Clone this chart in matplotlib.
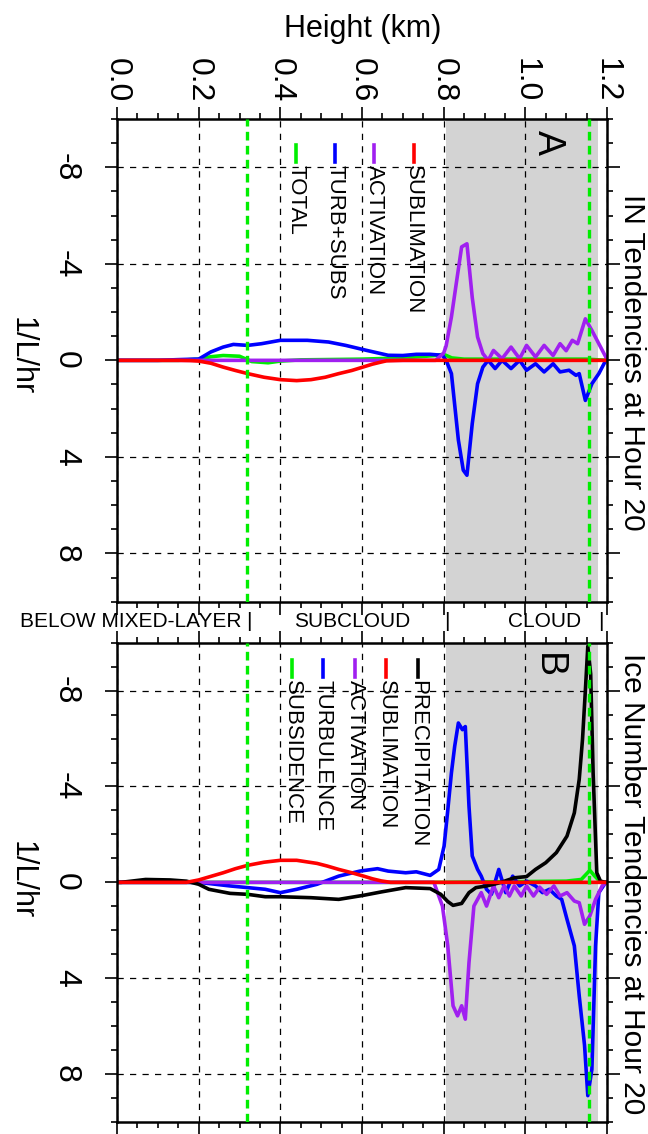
import matplotlib
matplotlib.use("Agg")
import matplotlib.pyplot as plt
from matplotlib.ticker import MultipleLocator, FormatStrFormatter

plt.rcParams['font.family'] = ['Liberation Sans', 'DejaVu Sans']
plt.rcParams['axes.unicode_minus'] = False

GREEN = '#00ee00'
PURPLE = '#a020f0'
LW = 2.6

# ---- panel A : IN tendencies (height km, 1/L/hr) ----
a_sub_h = [0.0, 0.15, 0.18, 0.2, 0.23, 0.26, 0.29, 0.32, 0.36, 0.40, 0.44, 0.475, 0.51, 0.543,
           0.575, 0.602, 0.625, 0.647, 0.66, 0.70, 0.80, 1.0, 1.2]
a_sub_v = [0, 0, 0.01, 0.03, 0.12, 0.28, 0.42, 0.55, 0.7, 0.8, 0.84, 0.8, 0.7, 0.55,
           0.42, 0.28, 0.16, 0.07, 0.02, 0, 0, 0, 0]

a_turb_h = [0.0, 0.10, 0.15, 0.19, 0.2, 0.23, 0.26, 0.285, 0.32, 0.354, 0.40, 0.466, 0.518, 0.56,
            0.612, 0.664, 0.70, 0.733, 0.767, 0.797, 0.806, 0.819, 0.836, 0.848, 0.857, 0.87,
            0.883, 0.896, 0.909, 0.926, 0.943, 0.965, 0.986, 1.003, 1.025, 1.046, 1.068, 1.085,
            1.107, 1.124, 1.132, 1.147, 1.163, 1.18, 1.197, 1.2]
a_turb_v = [0, 0, -0.03, -0.05, -0.05, -0.35, -0.55, -0.66, -0.62, -0.69, -0.83, -0.83, -0.76, -0.62,
            -0.41, -0.21, -0.2, -0.25, -0.25, -0.21, 0, 0.55, 3.3, 4.55, 4.76, 2.62,
            0.97, 0.28, 0, 0.34, 0.0, 0.34, 0.0, 0.41, 0.14, 0.48, 0.14, 0.48,
            0.41, 0.62, 0.55, 1.66, 0.97, 0.55, 0.0, -0.07]

a_act_h = [0.0, 0.78, 0.80, 0.806, 0.819, 0.831, 0.844, 0.857, 0.87, 0.883, 0.896, 0.909, 0.922,
           0.943, 0.965, 0.986, 1.003, 1.025, 1.046, 1.068, 1.085, 1.10, 1.115, 1.128, 1.147,
           1.163, 1.18, 1.197, 1.2]
a_act_v = [0, 0, -0.3, -0.6, -1.8, -3.2, -4.7, -4.83, -2.6, -0.97, -0.28, 0, -0.41,
           -0.07, -0.55, -0.07, -0.62, -0.14, -0.62, -0.2, -0.69, -0.4, -0.83, -0.69, -1.72,
           -1.24, -0.69, -0.14, 0]

a_tot_h = [0.0, 0.15, 0.2, 0.23, 0.26, 0.30, 0.33, 0.37, 0.40, 0.45, 0.60, 0.70, 0.78, 0.80,
           0.82, 0.85, 0.90, 1.0, 1.1, 1.15, 1.18, 1.2]
a_tot_v = [0, 0, -0.05, -0.15, -0.2, -0.17, 0.05, 0.1, 0.03, -0.02, -0.05, -0.1, -0.2, -0.25,
           -0.1, -0.05, -0.05, -0.05, -0.05, -0.05, -0.02, 0]

# ---- panel B : ice number tendencies ----
b_prec_h = [0.0, 0.01, 0.07, 0.13, 0.17, 0.2, 0.225, 0.277, 0.32, 0.363, 0.40, 0.475, 0.543, 0.604,
            0.647, 0.707, 0.767, 0.793, 0.81, 0.823, 0.844, 0.862, 0.879, 0.905, 0.939, 0.973,
            1.003, 1.025, 1.05, 1.076, 1.102, 1.12, 1.132, 1.14, 1.147, 1.153, 1.16, 1.166,
            1.175, 1.184, 1.197, 1.2]
b_prec_v = [0, 0, -0.12, -0.1, -0.05, 0.08, 0.29, 0.46, 0.5, 0.6, 0.6, 0.64, 0.71, 0.54,
            0.4, 0.22, 0.26, 0.5, 0.8, 0.96, 0.88, 0.43, 0.22, 0.15, 0.01, -0.19,
            -0.24, -0.54, -0.82, -1.24, -1.93, -2.9, -4.3, -5.96, -8.0, -9.85, -8.7, -4.57,
            -0.4, -0.05, 0, 0]

b_sub_h = [0.0, 0.17, 0.2, 0.23, 0.26, 0.29, 0.32, 0.36, 0.40, 0.44, 0.49, 0.515, 0.543, 0.575,
           0.604, 0.625, 0.647, 0.67, 1.2]
b_sub_v = [0, 0, -0.1, -0.25, -0.4, -0.57, -0.71, -0.84, -0.92, -0.92, -0.79, -0.68, -0.54, -0.4,
           -0.26, -0.15, -0.06, 0, 0]

b_act_h = [0.0, 0.776, 0.797, 0.81, 0.823, 0.834, 0.844, 0.853, 0.862, 0.874, 0.892, 0.905, 0.922,
           0.935, 0.948, 0.961, 0.973, 0.99, 1.003, 1.02, 1.035, 1.052, 1.07, 1.085, 1.102,
           1.12, 1.132, 1.145, 1.158, 1.172, 1.188, 1.2]
b_act_v = [0, 0, 0.99, 2.65, 5.15, 5.57, 5.15, 5.71, 3.35, 0.99, 0.43, 0.99, 0.15,
           0.64, 0.15, 0.57, 0.15, 0.57, 0.15, 0.57, 0.2, 0.5, 0.15, 0.57, 0.43,
           0.78, 0.85, 1.75, 1.4, 0.71, 0.15, 0]

b_turb_h = [0.0, 0.2, 0.277, 0.32, 0.363, 0.40, 0.44, 0.49, 0.543, 0.595, 0.638, 0.664, 0.707,
            0.733, 0.767, 0.788, 0.801, 0.81, 0.819, 0.827, 0.836, 0.846, 0.853, 0.862, 0.87,
            0.883, 0.892, 0.905, 0.917, 0.935, 0.952, 0.969, 0.986, 1.003, 1.025, 1.042, 1.059,
            1.076, 1.089, 1.102, 1.12, 1.132, 1.145, 1.153, 1.163, 1.172, 1.18, 1.197, 1.2]
b_turb_v = [0, 0, 0.15, 0.22, 0.29, 0.43, 0.29, 0.08, -0.26, -0.47, -0.57, -0.47, -0.4,
            -0.44, -0.29, -0.54, -1.51, -3.0, -4.57, -5.68, -6.65, -6.37, -6.5, -3.18, -1.1,
            -0.54, -0.26, 0.29, 0.5, -0.54, 0.43, -0.26, 0.15, -0.05, 0.15, 0.43, 0.29,
            0.57, 0.71, 1.54, 2.65, 4.74, 6.8, 8.9, 7.8, 2.65, 0.43, 0, 0]

b_subs_h = [0.0, 0.8, 1.1, 1.137, 1.158, 1.17, 1.185, 1.2]
b_subs_v = [0, 0, -0.05, -0.12, -0.5, -0.26, 0, 0]

mixed_layer_top = 0.319
cloud_top_line = 1.157
cloud_base, cloud_top = 0.805, 1.178

fig = plt.figure(figsize=(6.48, 11.34), dpi=100)


def fx(px):
    return px / 648.0


def fy(py):
    return 1 - py / 1134.0


def style_axes(ax, top_labels):
    ax.set_xlim(0, 1.2)
    ax.set_ylim(10, -10)
    ax.axvspan(cloud_base, cloud_top, color='#d3d3d3', lw=0, zorder=0.5)
    ax.xaxis.set_major_locator(MultipleLocator(0.2))
    ax.xaxis.set_minor_locator(MultipleLocator(0.05))
    ax.xaxis.set_major_formatter(FormatStrFormatter('%.1f'))
    ax.set_yticks([-8, -4, 0, 4, 8])
    ax.yaxis.set_minor_locator(MultipleLocator(1))
    ax.tick_params(axis='both', which='both', direction='out', width=1.2,
                   top=True, bottom=True, left=True, right=True)
    ax.tick_params(axis='both', which='major', length=9)
    ax.tick_params(axis='both', which='minor', length=4.5)
    ax.tick_params(axis='x', labeltop=top_labels, labelbottom=False,
                   labelsize=23, labelrotation=-90, pad=3)
    ax.tick_params(axis='y', labelleft=True, labelright=False, labelsize=23,
                   labelrotation=-90, pad=17)
    for lab in ax.get_yticklabels():
        lab.set_va('center')
    ax.grid(True, which='major', color='black', linestyle=(0, (5, 5)), linewidth=0.9)
    for s in ax.spines.values():
        s.set_linewidth(1.8)
    for xv in (mixed_layer_top, cloud_top_line):
        ax.axvline(xv, color=GREEN, lw=2.4, ls=(0, (2.6, 1.6)), zorder=3)


axA = fig.add_axes([fx(117), fy(601.7), fx(490), 482.7 / 1134])
style_axes(axA, True)
axA.plot(a_tot_h, a_tot_v, color=GREEN, lw=LW)
axA.plot(a_turb_h, a_turb_v, color='blue', lw=LW)
axA.plot(a_act_h, a_act_v, color=PURPLE, lw=LW)
axA.plot(a_sub_h, a_sub_v, color='red', lw=LW)

axB = fig.add_axes([fx(117), fy(1122), fx(490), 479.3 / 1134])
style_axes(axB, False)
axB.plot(b_subs_h, b_subs_v, color=GREEN, lw=LW)
axB.plot(b_turb_h, b_turb_v, color='blue', lw=LW)
axB.plot(b_act_h, b_act_v, color=PURPLE, lw=LW)
axB.plot(b_prec_h, b_prec_v, color='black', lw=LW)
axB.plot(b_sub_h, b_sub_v, color='red', lw=LW)


# manual legends: short segment then rotated label
def legend(ax, entries, xs, seg_top, seg_bot, txt_top, ax_top, ax_h):
    for (name, col), px in zip(entries, xs):
        xa = (px - 117) / 490.0
        y1 = 1 - (seg_top - ax_top) / ax_h
        y2 = 1 - (seg_bot - ax_top) / ax_h
        ax.plot([xa, xa], [y1, y2], color=col, lw=LW, transform=ax.transAxes,
                clip_on=False, zorder=5)
        ax.text(xa, 1 - (txt_top - ax_top) / ax_h, name, rotation=-90, ha='center', va='top',
                fontsize=16, transform=ax.transAxes, zorder=5)


legend(axA, [('SUBLIMATION', 'red'), ('ACTIVATION', PURPLE), ('TURB+SUBS', 'blue'),
             ('TOTAL', GREEN)], [413.6, 374, 335, 296], 145, 162, 165, 119, 482.7)
legend(axB, [('PRECIPITATION', 'black'), ('SUBLIMATION', 'red'), ('ACTIVATION', PURPLE),
             ('TURBULENCE', 'blue'), ('SUBSIDENCE', GREEN)], [418, 386, 355, 323, 292],
       660, 677, 680, 643, 479.3)

fig.text(fx(548), fy(142), 'A', fontsize=27, rotation=-90, ha='center', va='center')
fig.text(fx(548), fy(666), 'B', fontsize=27, rotation=-90, ha='center', va='center')

fig.text(fx(363), fy(29), 'Height (km)', fontsize=22, ha='center', va='center')
fig.text(fx(632), fy(362), 'IN Tendencies at Hour 20', fontsize=21.5, rotation=-90,
         ha='center', va='center')
fig.text(fx(632), fy(884), 'Ice Number Tendencies at Hour 20', fontsize=21.5, rotation=-90,
         ha='center', va='center')
fig.text(fx(22), fy(356), '1/L/hr', fontsize=22, rotation=-90, ha='center', va='center')
fig.text(fx(22), fy(880), '1/L/hr', fontsize=22, rotation=-90, ha='center', va='center')

# layer labels between the panels
fig.text(fx(241), fy(621), 'BELOW MIXED-LAYER', fontsize=15, ha='right', va='center')
fig.text(fx(352), fy(621), 'SUBCLOUD', fontsize=15, ha='center', va='center')
fig.text(fx(545), fy(621), 'CLOUD', fontsize=15, ha='center', va='center')
for px in (249, 447, 601):
    fig.text(fx(px), fy(621), '|', fontsize=15, ha='center', va='center')

fig.savefig('out.png', dpi=100)
